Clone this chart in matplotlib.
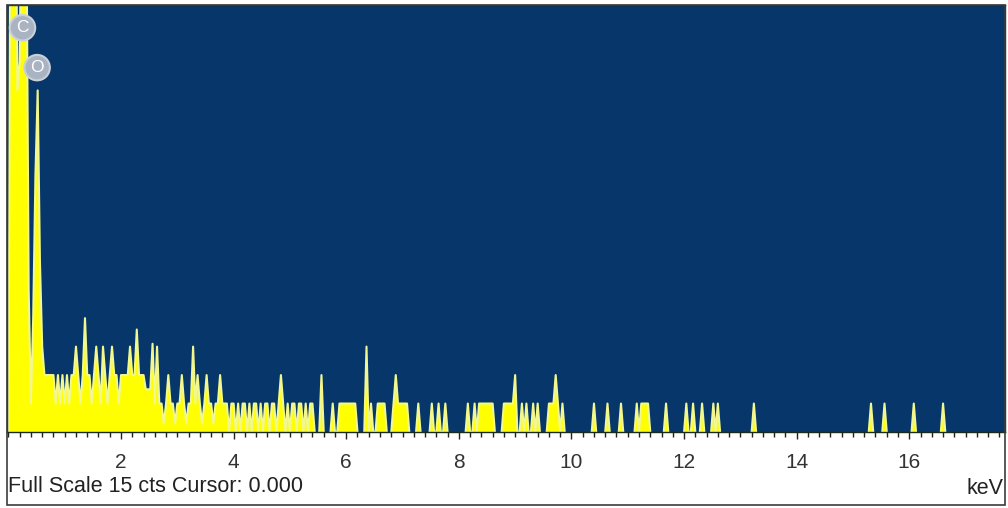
import numpy as np
import matplotlib
matplotlib.use('Agg')
import matplotlib.pyplot as plt
from matplotlib.patches import Rectangle

plt.rcParams['font.family'] = ['Liberation Sans', 'DejaVu Sans']

# EDS spectrum, 40 eV channels, counts
channel_width = 0.04
n_channels = 443

# first channels from 0.00 keV (C and O peaks)
low_counts = [0, 22, 25, 22, 12, 13, 20, 24, 18, 5, 1, 4, 9, 12, 6, 3]

# flat runs: start keV, end keV, counts
run_start = [0.64, 2.44, 2.60, 5.88, 6.56, 6.84, 8.36, 8.80, 9.60, 11.24]
run_end = [2.40, 2.52, 5.40, 6.16, 6.68, 7.08, 8.60, 8.96, 9.84, 11.32]
run_cts = [2, 1.5, 1, 1, 1, 1, 1, 1, 1, 1]

# single channels dipping below the run level
notch_kev = [0.84, 0.92, 1.00, 1.08, 1.28, 1.48, 1.64, 1.76, 1.96,
             2.76, 2.96, 3.16, 3.44, 3.64,
             3.92, 4.04, 4.12, 4.24, 4.32, 4.44, 4.52, 4.64, 4.76,
             4.92, 5.00, 5.12, 5.24, 5.32, 9.80]
notch_cts = [1, 1, 1, 1, 1, 1, 1, 1, 1,
             0.3, 0.3, 0.3, 0.3, 0.3,
             0, 0, 0, 0, 0, 0, 0, 0, 0,
             0, 0, 0, 0, 0, 0]

# single-channel peaks
peak_kev = [1.20, 1.36, 1.56, 1.68, 1.84, 2.16, 2.28, 2.56, 2.64, 2.84,
            3.08, 3.28, 3.36, 3.52, 3.76, 4.84, 5.56, 5.76, 6.36, 6.44,
            6.88, 7.28, 7.52, 7.64, 7.76, 8.16, 8.28, 9.00, 9.12, 9.20,
            9.32, 9.40, 9.72, 10.40, 10.64, 10.88, 11.16, 11.36, 11.68, 12.04,
            12.16, 12.32, 12.52, 12.60, 13.24, 15.32, 15.56, 16.08, 16.60]
peak_cts = [3, 4, 3, 3, 3, 3, 3.6, 3.1, 3, 2,
            2, 3, 2, 2, 2, 2, 2, 1, 3, 1,
            2, 1, 1, 1, 1, 1, 1, 2, 1, 1,
            1, 1, 2, 1, 1, 1, 1, 1, 1, 1,
            1, 1, 1, 1, 1, 1, 1, 1, 1]

# element markers
elements = ['C', 'O']
element_kev = [0.25, 0.51]
element_cts = [14.2, 12.8]

energy = np.arange(n_channels) * channel_width
counts = np.zeros(n_channels)
for s, e, c in zip(run_start, run_end, run_cts):
    counts[(energy > s - 0.01) & (energy < e + 0.01)] = c
for k, c in zip(notch_kev, notch_cts):
    counts[int(round(k / channel_width))] = c
for k, c in zip(peak_kev, peak_cts):
    i = int(round(k / channel_width))
    counts[i] = max(counts[i], c)
counts[:len(low_counts)] = low_counts

# outline only where there is signal (no line running along the zero level)
padded = np.pad(counts, 1)
empty = (counts == 0) & (padded[:-2] == 0) & (padded[2:] == 0)
outline = np.ma.masked_where(empty, counts)

fig = plt.figure(figsize=(10.08, 5.08), dpi=100)
ax = fig.add_axes([7 / 1008, 76 / 508, 998 / 1008, 427 / 508])
ax.set_facecolor('#07376a')

ax.fill_between(energy, counts, color='#ffff00', lw=0)
ax.plot(energy, outline, color='#f2f88e', lw=1.5)

ax.set_xlim(-0.025, 17.70)
ax.set_ylim(0, 15)
ax.set_yticks([])
ax.set_xticks(np.arange(2, 17, 2))
ax.set_xticks(np.arange(0, 17.8, 0.2), minor=True)
ax.tick_params(axis='x', which='major', direction='out', length=5, width=1,
               color='#222222', labelsize=15, pad=10, labelcolor='#333333')
ax.tick_params(axis='x', which='minor', direction='out', length=3.5, width=1,
               color='#222222')
for sp in ax.spines.values():
    sp.set_color('#1c2a1c')
    sp.set_linewidth(1)
ax.spines['bottom'].set_zorder(5)

for name, k, c in zip(elements, element_kev, element_cts):
    ax.text(k, c, name, ha='center', va='center', color='white', fontsize=12.5,
            bbox=dict(boxstyle='circle,pad=0.3', fc='#aab3c2', ec='#c9d0da', lw=1.5))

fig.text(8 / 1008, 1 - 486 / 508, 'Full Scale 15 cts Cursor: 0.000', ha='left',
         va='center', fontsize=15.5, color='#222222')
fig.text(1003 / 1008, 1 - 488 / 508, 'keV', ha='right', va='center',
         fontsize=15.5, color='#222222')

fig.patches.append(Rectangle((7 / 1008, 3 / 508), 998 / 1008, 500 / 508,
                             transform=fig.transFigure, fill=False,
                             ec='#3c3c3c', lw=1.2))

fig.savefig('out.png', dpi=100, facecolor='white')
plt.close()
